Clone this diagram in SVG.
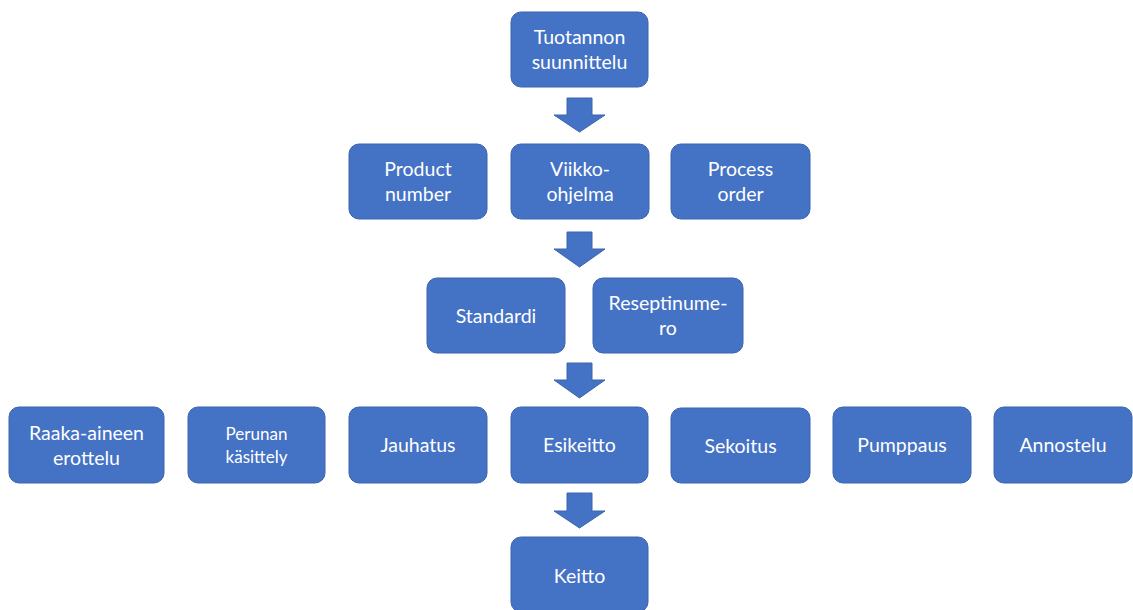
<svg xmlns="http://www.w3.org/2000/svg" width="1133" height="610" viewBox="0 0 1133 610">
<style>
.box{fill:#4472C4;stroke:#3A64AE;stroke-width:1}
.t{fill:#fff;font-family:Lato,"Open Sans","Liberation Sans",sans-serif;font-size:19.5px;text-anchor:middle}
.s{font-size:17px}
.arr{fill:#4472C4;stroke:#3A64AE;stroke-width:1}
</style>
<rect width="1133" height="610" fill="#fff"/>
<g id="connectors">
<path class="arr" d="M567,98 H592 V115 H605 L579.5,132 L554,115 H567 Z"/>
<path class="arr" d="M567,232 H592 V249 H605 L579.5,267 L554,249 H567 Z"/>
<path class="arr" d="M567,363 H592 V380 H605 L579.5,398 L554,380 H567 Z"/>
<path class="arr" d="M567,493 H592 V511 H605 L579.5,528 L554,511 H567 Z"/>
</g>
<g id="n1"><rect class="box" x="511" y="12" width="137" height="75" rx="10"/><text class="t" x="579.5" y="44">Tuotannon</text><text class="t" x="579.5" y="69">suunnittelu</text></g>
<g id="n2"><rect class="box" x="349" y="144" width="138" height="75" rx="10"/><text class="t" x="418" y="176">Product</text><text class="t" x="418" y="201">number</text></g>
<g id="n3"><rect class="box" x="511" y="144" width="138" height="75" rx="10"/><text class="t" x="580" y="176">Viikko-</text><text class="t" x="580" y="201">ohjelma</text></g>
<g id="n4"><rect class="box" x="671" y="144" width="139" height="75" rx="10"/><text class="t" x="740.5" y="176">Process</text><text class="t" x="740.5" y="201">order</text></g>
<g id="n5"><rect class="box" x="427" y="278" width="138" height="75" rx="10"/><text class="t" x="496" y="323">Standardi</text></g>
<g id="n6"><rect class="box" x="593" y="278" width="150" height="75" rx="10"/><text class="t" x="668" y="310">Reseptinume-</text><text class="t" x="668" y="335">ro</text></g>
<g id="n7"><rect class="box" x="9" y="407" width="155" height="76" rx="10"/><text class="t" x="86.5" y="440">Raaka-aineen</text><text class="t" x="86.5" y="465">erottelu</text></g>
<g id="n8"><rect class="box" x="188" y="407" width="137" height="76" rx="10"/><text class="t s" x="256.5" y="440">Perunan</text><text class="t s" x="256.5" y="463">käsittely</text></g>
<g id="n9"><rect class="box" x="349" y="407" width="138" height="76" rx="10"/><text class="t" x="418" y="452">Jauhatus</text></g>
<g id="n10"><rect class="box" x="511" y="407" width="137" height="76" rx="10"/><text class="t" x="579.5" y="452">Esikeitto</text></g>
<g id="n11"><rect class="box" x="671" y="408" width="139" height="75" rx="10"/><text class="t" x="740.5" y="453">Sekoitus</text></g>
<g id="n12"><rect class="box" x="833" y="407" width="138" height="76" rx="10"/><text class="t" x="902" y="452">Pumppaus</text></g>
<g id="n13"><rect class="box" x="994" y="407" width="138" height="76" rx="10"/><text class="t" x="1063" y="452">Annostelu</text></g>
<g id="n14"><rect class="box" x="511" y="537" width="137" height="75" rx="10"/><text class="t" x="579.5" y="583">Keitto</text></g>
</svg>
